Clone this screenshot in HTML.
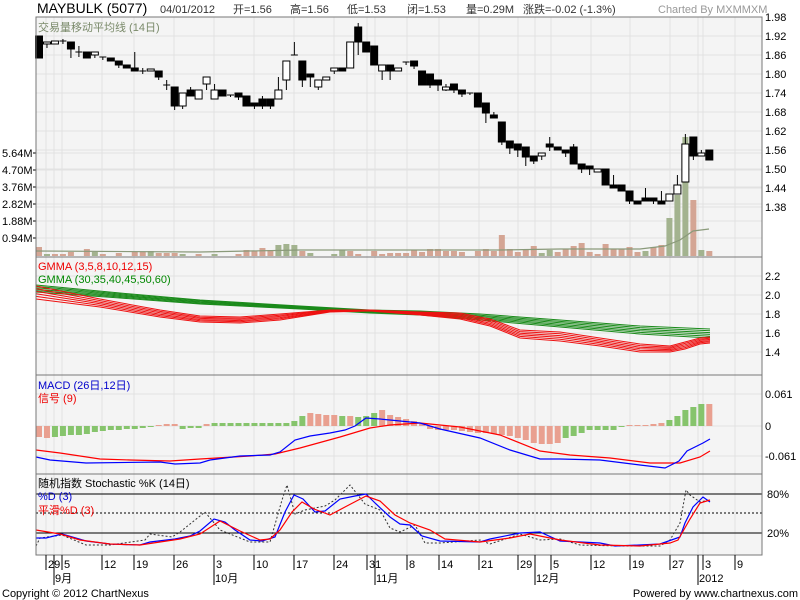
<!DOCTYPE html>
<html><head><meta charset="utf-8"><style>
body{margin:0;background:#fff;width:800px;height:600px;overflow:hidden}
svg{display:block}
text{font-family:"Liberation Sans","Noto Sans CJK SC",sans-serif}
</style></head><body>
<svg id="s" width="800" height="600" xmlns="http://www.w3.org/2000/svg"></svg>
<script>
const S=document.getElementById('s');let h='';
const L=36,R=762;
function P(pts,c,w,d){return `<polyline fill="none" stroke="${c}" stroke-width="${w||1}" ${d?'stroke-dasharray="'+d+'"':''} points="${pts.map(p=>p.join(',')).join(' ')}"/>`}
function T(x,y,t,s,c,a){return `<text x="${x}" y="${y}" font-size="${s}" fill="${c||'#000'}" ${a?'text-anchor="'+a+'"':''}>${t}</text>`}
[[17,257],[257,375],[375,474],[474,555]].forEach(p=>{h+=`<rect x="${L}" y="${p[0]}" width="${R-L}" height="${p[1]-p[0]}" fill="#f4f4f4"/>`});
const vx=[46,54,62,102,134,174,214,254,294,334,367,375,407,439,479,518,535,551,591,630,670,698,703,735];
vx.forEach(x=>{h+=`<line x1="${x}" y1="17" x2="${x}" y2="555" stroke="#e2e2e2"/>`});
const py=p=>17+(1.98-p)*316.7;
[1.98,1.92,1.86,1.80,1.74,1.68,1.62,1.56,1.50,1.44,1.38].forEach(p=>{let y=py(p);h+=`<line x1="${L}" y1="${y}" x2="${R}" y2="${y}" stroke="#e2e2e2"/>`+T(765,y+4,p.toFixed(2),11);});
[[153,'5.64M'],[170,'4.70M'],[187,'3.76M'],[204,'2.82M'],[221,'1.88M'],[238,'0.94M']].forEach(v=>{h+=`<line x1="${L}" y1="${v[0]}" x2="${R}" y2="${v[0]}" stroke="#e2e2e2"/><line x1="33" y1="${v[0]}" x2="${L}" y2="${v[0]}" stroke="#000"/>`+T(2,v[0]+4,v[1],11)});
const vol=[[247,0],[254,1],[254,0],[254,0],[252,0],[0],[249,0],[252,1],[254,0],[0],[253,0],[0],[252,0],[252,0],[251,1],[253,0],[253,0],[253,0],[254,1],[0],[254,0],[0],[254,1],[0],[0],[254,0],[250,0],[251,0],[248,0],[250,0],[245,1],[244,1],[245,1],[251,0],[253,1],[0],[0],[254,1],[250,1],[251,0],[254,0],[0],[251,0],[254,0],[253,0],[253,0],[253,0],[250,0],[252,0],[249,0],[249,0],[251,0],[251,0],[252,0],[0],[251,0],[249,0],[251,0],[235,0],[249,0],[252,0],[250,0],[246,0],[253,1],[250,1],[252,0],[249,0],[246,0],[243,0],[252,0],[254,0],[244,0],[249,0],[249,0],[247,0],[252,0],[251,1],[247,0],[245,0],[218,1],[195,1],[137,1],[200,0],[250,1],[251,0]];
const X=i=>39+i*7.98;
vol.forEach((v,i)=>{if(v[0])h+=`<rect x="${X(i)-3}" y="${v[0]}" width="6" height="${256-v[0]}" fill="${v[1]?'#a3b38f':'#d4a594'}"/>`});
h+=P([[36,251],[200,252],[300,250],[420,250],[500,250],[560,249],[640,249],[665,246],[680,240],[693,231],[709,229]],'#8a9a7a',1.2);
const C=[[36,58,36,58,0],[42,44,42,48,1],[41,44,41,44,1],[41,41,39,44,2],[42,49,42,58,0],[52,52,46,57,2],[52,58,52,58,0],[52,55,52,58,1],[57,57,57,60,2],[58,61,58,61,0],[61,65,61,68,0],[65,68,65,68,0],[68,71,52,71,0],[71,71,68,74,2],[69,71,69,71,1],[71,77,71,80,0],[85,85,80,90,2],[87,106,87,110,0],[93,106,93,109,1],[90,96,87,96,0],[90,99,90,99,1],[77,84,77,90,1],[90,99,84,99,1],[90,96,90,96,0],[95,95,95,97,2],[93,97,93,100,0],[96,106,96,106,0],[103,106,103,109,0],[99,106,96,109,0],[99,106,99,109,0],[90,99,77,99,1],[61,80,61,90,1],[55,55,42,55,2],[61,80,61,87,0],[74,77,74,87,0],[80,87,80,90,1],[77,80,77,80,1],[68,71,68,74,1],[68,71,68,71,0],[42,68,42,68,1],[27,42,23,55,0],[42,52,42,52,0],[46,65,46,65,0],[65,71,65,80,1],[65,71,65,80,0],[68,71,68,71,1],[62,62,62,65,2],[61,66,61,69,0],[71,85,71,85,0],[74,85,74,88,0],[80,85,80,91,0],[87,90,84,91,1],[84,90,84,93,0],[90,94,90,97,0],[93,93,93,95,2],[93,107,93,107,0],[103,113,103,123,0],[115,118,112,118,0],[122,142,122,145,0],[141,148,141,154,0],[144,150,144,157,0],[147,157,147,166,0],[156,161,156,164,0],[153,156,153,160,1],[144,147,137,151,0],[147,150,147,150,0],[150,153,150,157,0],[147,164,144,164,0],[164,169,164,173,0],[166,169,166,175,0],[169,172,169,172,1],[169,185,169,185,0],[185,188,175,188,0],[185,191,185,191,0],[191,201,191,204,0],[201,204,201,204,0],[198,201,188,201,0],[198,201,198,204,0],[201,204,191,204,0],[194,201,194,201,1],[185,194,175,194,1],[144,182,134,182,1],[137,156,137,160,0],[153,156,150,156,1],[150,160,150,160,0]];
C.forEach((c,i)=>{let x=X(i);h+=`<line x1="${x}" y1="${c[2]}" x2="${x}" y2="${c[3]}" stroke="#000"/>`;
if(c[4]==2)h+=`<line x1="${x-3.5}" y1="${c[0]}" x2="${x+3.5}" y2="${c[0]}" stroke="#000"/>`;
else h+=`<rect x="${x-3.5}" y="${c[0]}" width="7" height="${Math.max(c[1]-c[0],2)}" fill="${c[4]?'#fff':'#000'}" stroke="#000"/>`;});
h+=T(38,31,'交易量移动平均线 (14日)',11,'#7a8a6a');
const gy=v=>295+(2.0-v)*95;
[2.2,2.0,1.8,1.6,1.4].forEach(v=>{let y=gy(v);h+=`<line x1="${L}" y1="${y}" x2="${R}" y2="${y}" stroke="#e2e2e2"/>`+T(765,y+4,v.toFixed(1),11)});
const gb=[[36,285],[120,293],[200,300],[300,306],[370,310],[420,311],[480,314],[560,320],[640,326],[710,329]];
const gB=[[36,292],[120,298],[200,304],[300,309],[370,313],[420,315],[480,320],[560,327],[640,334],[710,338]];
for(let k=0;k<6;k++)h+=P(gb.map((p,j)=>[p[0],p[1]+(gB[j][1]-p[1])*k/5]),'#1a8a1a',1);
const ra=[[36,286],[100,299],[160,310],[200,316],[240,317],[280,314],[330,310],[370,310],[420,312],[460,313],[490,319],[520,330],[560,332],[600,338],[640,344],[670,346],[685,342],[700,338],[710,337]];
const rb=[[36,299],[100,307],[160,317],[200,322],[240,323],[280,320],[330,312],[370,311],[420,315],[460,319],[490,326],[520,338],[560,341],[600,346],[640,352],[670,352],[685,349],[700,344],[710,343]];
for(let k=0;k<6;k++)h+=P(ra.map((p,j)=>[p[0],p[1]+(rb[j][1]-p[1])*k/5]),'#ee1111',1);
h+=T(38,270,'GMMA (3,5,8,10,12,15)',11,'#e00')+T(38,283,'GMMA (30,35,40,45,50,60)',11,'#080');
[[394,'0.061'],[426,'0'],[456,'-0.061']].forEach(v=>{h+=`<line x1="${L}" y1="${v[0]}" x2="${R}" y2="${v[0]}" stroke="#e2e2e2"/>`+T(765,v[0]+4,v[1],11)});
const mh=[11,12,11,10,9,9,8,6,5,4,4,3,3,2,1,-1,-2,-2,3,2,2,-2,-3,-3,-3,-3,-3,-3,-3,-3,-3,-3,-5,-10,-13,-12,-11,-11,-10,-10,-9,-10,-13,-16,-11,-9,-7,-5,-2,3,4,4,4,5,6,7,7,8,9,10,12,14,17,18,18,17,12,10,7,4,4,4,4,1,-1,-1,-1,-2,-3,-6,-10,-16,-19,-22,-22];
const mg=[0,0,1,1,1,1,1,1,1,1,1,1,1,1,1,0,0,0,1,1,1,0,1,1,1,1,1,1,1,1,1,1,1,1,0,0,0,0,1,0,1,1,1,0,0,0,0,0,0,0,0,0,0,0,0,0,0,0,0,0,0,0,0,0,0,0,1,1,1,1,1,1,1,1,0,0,0,0,0,1,1,1,1,1,0];
mh.forEach((v,i)=>{let y=v>0?426:426+v;h+=`<rect x="${X(i)-3}" y="${y}" width="6" height="${Math.abs(v)}" fill="${mg[i]?'#86c46c':'#e9a090'}"/>`});
h+=P([[36,450],[60,453],[100,459],[130,460],[170,461],[200,459],[250,456],[275,454],[300,448],[340,437],[370,428],[390,425],[420,423],[460,427],[500,435],[540,451],[570,455],[610,458],[650,463],[680,463],[700,457],[710,451]],'#f00',1.2);
h+=P([[36,457],[50,460],[86,463],[160,462],[175,464],[200,463],[210,460],[240,456],[270,455],[280,452],[295,440],[310,436],[330,433],[345,430],[355,426],[366,418],[380,419],[400,421],[420,423],[440,429],[480,438],[510,450],[540,459],[560,459],[600,460],[640,465],[665,468],[679,461],[687,451],[703,443],[710,439]],'#00f',1.2);
h+=T(38,389,'MACD (26日,12日)',11,'#00c')+T(38,402,'信号 (9)',11,'#e00');
h+=`<line x1="${L}" y1="494" x2="${R}" y2="494" stroke="#000"/><line x1="${L}" y1="533" x2="${R}" y2="533" stroke="#000"/><line x1="${L}" y1="513" x2="${R}" y2="513" stroke="#000" stroke-dasharray="2,2"/>`;
h+=T(767,498,'80%',11)+T(767,537,'20%',11);
h+=P([[36,546],[40,538],[62,535],[86,545],[110,545],[145,540],[150,534],[172,537],[180,532],[205,512],[220,530],[250,542],[270,542],[282,500],[287,485],[295,514],[305,510],[325,506],[335,500],[350,485],[365,504],[380,510],[390,528],[400,532],[415,525],[425,543],[440,543],[480,540],[490,544],[520,534],[540,540],[560,539],[580,545],[620,546],[660,546],[670,540],[680,523],[686,490],[690,495],[700,502],[710,500]],'#333',1,'2,2');
h+=P([[36,538],[46,538],[62,534],[86,541],[110,544],[140,545],[150,542],[175,539],[190,536],[200,531],[214,519],[225,522],[235,530],[250,540],[262,541],[275,537],[285,512],[294,495],[303,499],[315,512],[325,511],[340,499],[355,496],[366,494],[375,503],[390,517],[400,524],[410,525],[422,536],[440,541],[480,542],[490,539],[520,533],[540,532],[560,541],[600,543],[615,546],[640,545],[660,544],[680,537],[685,523],[693,507],[703,497],[710,502]],'#00f',1.2);
h+=P([[36,530],[60,534],[80,540],[110,544],[140,545],[180,539],[200,534],[220,521],[240,531],[260,540],[270,539],[280,530],[292,512],[302,502],[314,509],[330,515],[345,507],[366,496],[380,501],[395,515],[410,523],[430,530],[445,539],[480,542],[510,538],[530,534],[560,540],[600,545],[640,546],[670,543],[678,540],[690,519],[700,503],[710,500]],'#f00',1.2);
h+=T(38,487,'随机指数 Stochastic %K (14日)',11,'#000')+T(38,500,'%D (3)',11,'#00c')+T(38,514,'平滑%D (3)',11,'#e00');
[[17,257],[257,375],[375,474],[474,555]].forEach(p=>{h+=`<rect x="${L}" y="${p[0]}" width="${R-L}" height="${p[1]-p[0]}" fill="none" stroke="#777"/>`});
const tk=[[46,'29'],[62,'5'],[102,'12'],[134,'19'],[174,'26'],[214,'3'],[254,'10'],[294,'17'],[334,'24'],[367,'31'],[407,'8'],[439,'14'],[479,'21'],[518,'29'],[551,'5'],[591,'12'],[630,'19'],[670,'27'],[703,'3'],[735,'9']];
tk.forEach(t=>{h+=`<line x1="${t[0]}" y1="555" x2="${t[0]}" y2="570" stroke="#000"/>`+T(t[0]+2,568,t[1],11)});
[[54,'9月'],[214,'10月'],[375,'11月'],[535,'12月'],[698,'2012']].forEach(t=>{h+=`<line x1="${t[0]}" y1="555" x2="${t[0]}" y2="585" stroke="#000"/>`+T(t[0]+1,582,t[1],11)});
h+=T(37,13,'MAYBULK (5077)',14,'#000')+T(160,13,'04/01/2012',11,'#333')+T(233,13,'开=1.56',11,'#333')+T(290,13,'高=1.56',11,'#333')+T(347,13,'低=1.53',11,'#333')+T(407,13,'闭=1.53',11,'#333')+T(466,13,'量=0.29M',11,'#333')+T(523,13,'涨跌=-0.02 (-1.3%)',11,'#333')+T(658,13,'Charted By MXMMXM',11,'#999');
h+=T(2,597,'Copyright © 2012 ChartNexus',11,'#000')+T(798,597,'Powered by www.chartnexus.com',11,'#000','end');
S.innerHTML=h;
</script>
</body></html>
